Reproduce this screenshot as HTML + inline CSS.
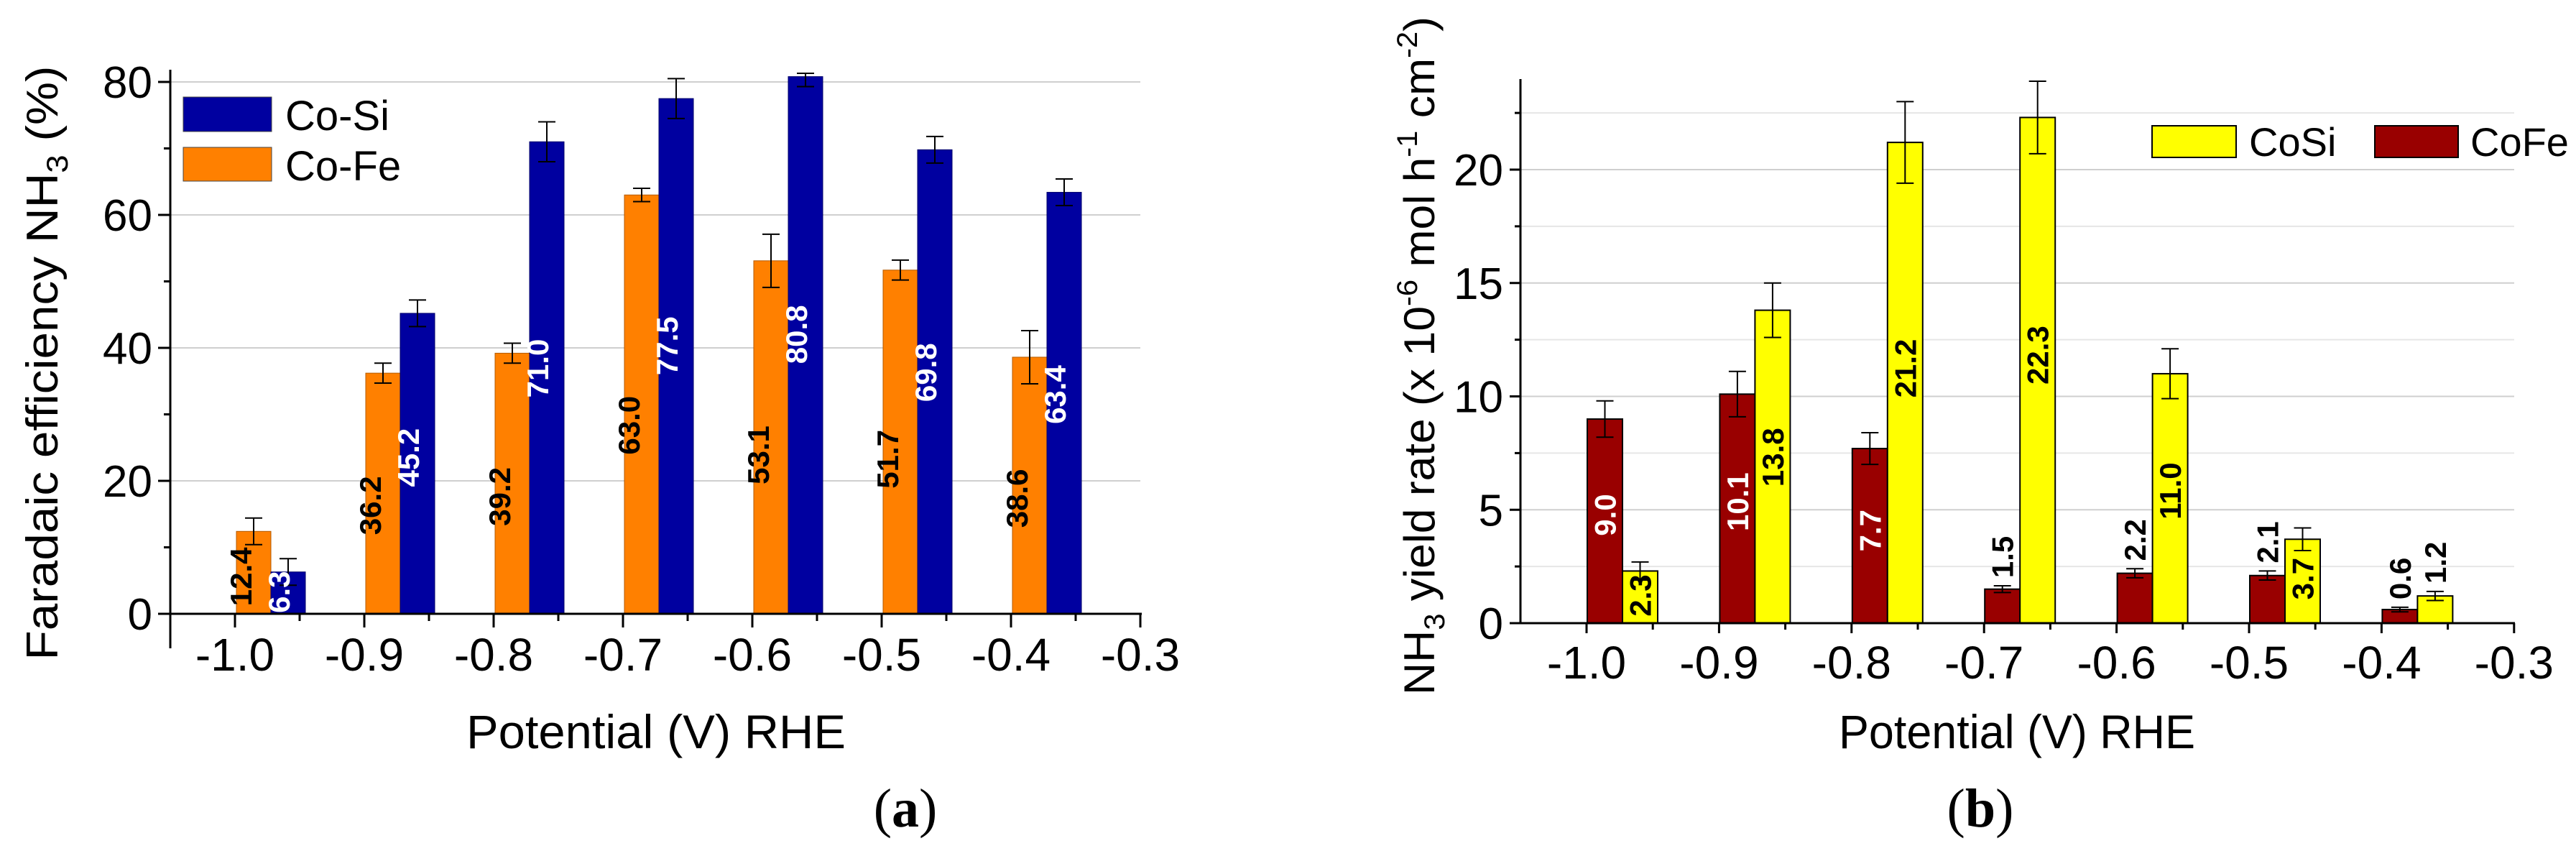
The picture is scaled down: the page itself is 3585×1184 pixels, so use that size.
<!DOCTYPE html>
<html><head><meta charset="utf-8"><style>
html,body{margin:0;padding:0;background:#fff;}
svg{display:block;font-family:"Liberation Sans",Arial,sans-serif;}
</style></head><body>
<svg id="fig" width="3585" height="1184" viewBox="0 0 3585 1184" xmlns="http://www.w3.org/2000/svg">
<rect width="3585" height="1184" fill="#fff"/>
<g id="chartA"></g>
<g id="chartB"></g>
</svg>
<script>
// ---------- data: chart (a) ----------
const potentialsA = [-1.0, -0.9, -0.8, -0.7, -0.6, -0.5, -0.4];
const feCoFe = [12.4, 36.2, 39.2, 63.0, 53.1, 51.7, 38.6];
const feCoFeErr = [2.0, 1.5, 1.5, 1.0, 4.0, 1.5, 4.0];
const feCoSi = [6.3, 45.2, 71.0, 77.5, 80.8, 69.8, 63.4];
const feCoSiErr = [2.0, 2.0, 3.0, 3.0, 1.5, 2.0, 2.0];
const xTicksA = ["-1.0","-0.9","-0.8","-0.7","-0.6","-0.5","-0.4","-0.3"];
const yTicksA = [0, 20, 40, 60, 80];
// ---------- data: chart (b) ----------
const potentialsB = [-1.0, -0.9, -0.8, -0.7, -0.6, -0.5, -0.4];
const yrCoFe = [9.0, 10.1, 7.7, 1.5, 2.2, 2.1, 0.6];
const yrCoFeErr = [0.8, 1.0, 0.7, 0.15, 0.2, 0.2, 0.1];
const yrCoSi = [2.3, 13.8, 21.2, 22.3, 11.0, 3.7, 1.2];
const yrCoSiErr = [0.4, 1.2, 1.8, 1.6, 1.1, 0.5, 0.2];
const xTicksB = ["-1.0","-0.9","-0.8","-0.7","-0.6","-0.5","-0.4","-0.3"];
const yTicksB = [0, 5, 10, 15, 20];

const NS = "http://www.w3.org/2000/svg";
function mk(parent, tag, attrs, text) {
  const e = document.createElementNS(NS, tag);
  for (const k in attrs) e.setAttribute(k, attrs[k]);
  if (text !== undefined) e.textContent = text;
  parent.appendChild(e);
  return e;
}

// ================= CHART A =================
(function(){
  const g = document.getElementById('chartA');
  const x0 = 237, y0 = 854, yTop = 114, vMax = 80;
  const xStart = 327, xStep = 180;
  const bw = 48;
  const yA = v => y0 - (v / vMax) * (y0 - yTop);
  const xA = p => xStart + (p - (-1.0)) / 0.1 * xStep;

  // gridlines
  yTicksA.forEach(t => {
    if (t === 0) return;
    const l = mk(g, 'line', {x1:x0, x2:1587, y1:yA(t), y2:yA(t), stroke:'#cfcfcf', 'stroke-width':2});
    
    
  });

  // bars
  potentialsA.forEach((p, i) => {
    const xl = xA(p);
    const r1 = mk(g, 'rect', {x:xl+2, y:yA(feCoFe[i]), width:bw, height:y0-yA(feCoFe[i]), fill:'#ff8000', stroke:'#b35a00', 'stroke-width':1});
    
    
    const r2 = mk(g, 'rect', {x:xl+2+bw, y:yA(feCoSi[i]), width:bw, height:y0-yA(feCoSi[i]), fill:'#0000a0', stroke:'#00006a', 'stroke-width':1});
    
    
    // error bars
    [[feCoFe[i], feCoFeErr[i], xl+2+bw/2], [feCoSi[i], feCoSiErr[i], xl+2+bw*1.5]].forEach(([v, e, cx]) => {
      const eg = mk(g, 'g', {stroke:'#000', 'stroke-width':2});
      
      
      const top = Math.max(yA(v+e), yTop - 12);
      mk(eg, 'line', {x1:cx, x2:cx, y1:top, y2:yA(v-e)});
      mk(eg, 'line', {x1:cx-12, x2:cx+12, y1:top, y2:top});
      mk(eg, 'line', {x1:cx-12, x2:cx+12, y1:yA(v-e), y2:yA(v-e)});
    });
  });

  // axes
  const ax = mk(g, 'g', {stroke:'#000', 'stroke-width':3});
  
  
  mk(ax, 'line', {x1:x0, x2:x0, y1:97, y2:902});
  mk(ax, 'line', {x1:228, x2:1589, y1:y0, y2:y0});
  for (let k = 0; k <= 14; k++) {
    const xx = xStart + k * xStep / 2;
    mk(ax, 'line', {x1:xx, x2:xx, y1:y0, y2:y0 + (k % 2 === 0 ? 19 : 10)});
  }
  for (let v = 0; v <= 80; v += 10) {
    mk(ax, 'line', {x1:x0, x2:x0 - (v % 20 === 0 ? 17 : 9), y1:yA(v), y2:yA(v)});
  }

  // tick labels
  yTicksA.forEach(t => {
    const tx = mk(g, 'text', {x:212, y:yA(t)+22, 'font-size':62, 'text-anchor':'end'}, String(t));
    
    
  });
  xTicksA.forEach((t, k) => {
    const tx = mk(g, 'text', {x:xStart + k*xStep, y:933, 'font-size':64, 'text-anchor':'middle'}, t);
    
    
  });

  // value labels
  potentialsA.forEach((p, i) => {
    const xl = xA(p);
    const c1 = yA(feCoFe[i] * 0.45);
    const t1 = mk(g, 'text', {x:0, y:0, 'font-size':42, 'font-weight':'bold', fill:'#000', 'text-anchor':'middle', transform:`translate(${xl+23},${c1}) rotate(-90)`}, feCoFe[i].toFixed(1));
    
    
    const c2 = yA(feCoSi[i] * 0.52);
    const t2 = mk(g, 'text', {x:0, y:0, 'font-size':42, 'font-weight':'bold', fill:'#fff', 'text-anchor':'middle', transform:`translate(${xl+bw+28},${c2}) rotate(-90)`}, feCoSi[i].toFixed(1));
    
    
  });

  // legend
  const lg = mk(g, 'g', {});
  
  
  mk(lg, 'rect', {x:255, y:135, width:123, height:48, fill:'#0000a0', stroke:'#444', 'stroke-width':1});
  mk(lg, 'text', {x:397, y:181, 'font-size':58}, 'Co-Si');
  mk(lg, 'rect', {x:255, y:205, width:123, height:47, fill:'#ff8000', stroke:'#444', 'stroke-width':1});
  mk(lg, 'text', {x:397, y:251, 'font-size':58}, 'Co-Fe');

  // titles
  const yt = mk(g, 'text', {x:0, y:0, 'font-size':62, 'text-anchor':'middle', transform:'translate(80,505) rotate(-90)', textLength:827, lengthAdjust:'spacingAndGlyphs'});
  
  
  yt.innerHTML = 'Faradaic efficiency NH<tspan font-size="42" dy="14">3</tspan><tspan dy="-14"> (%)</tspan>';
  const xt = mk(g, 'text', {x:913, y:1041, 'font-size':66, 'text-anchor':'middle', textLength:528, lengthAdjust:'spacingAndGlyphs'}, 'Potential (V) RHE');
  
  
  const pl = mk(g, 'text', {x:1260, y:1150, 'font-size':76, 'text-anchor':'middle', 'font-family':'"Liberation Serif",serif'});
  
  
  pl.innerHTML = '(<tspan font-weight="bold">a</tspan>)';
})();

// ================= CHART B =================
(function(){
  const g = document.getElementById('chartB');
  const x0 = 2116, y0 = 867, vPx = 31.55;
  const xStart = 2208, xStep = 184.4, xEnd = 3499;
  const bw = 49;
  const yB = v => y0 - v * vPx;
  const xB = p => xStart + (p - (-1.0)) / 0.1 * xStep;

  // gridlines
  for (let v = 2.5; v <= 22.5; v += 2.5) {
    const major = (v % 5 === 0);
    const l = mk(g, 'line', {x1:x0, x2:xEnd, y1:yB(v), y2:yB(v), stroke: major ? '#cfcfcf' : '#e6e6e6', 'stroke-width':2});
    
    
  }

  potentialsB.forEach((p, i) => {
    const xl = xB(p);
    const r1 = mk(g, 'rect', {x:xl+1, y:yB(yrCoFe[i]), width:bw, height:y0-yB(yrCoFe[i]), fill:'#990000', stroke:'#000', 'stroke-width':2});
    
    
    const r2 = mk(g, 'rect', {x:xl+1+bw, y:yB(yrCoSi[i]), width:bw, height:y0-yB(yrCoSi[i]), fill:'#ffff00', stroke:'#000', 'stroke-width':2});
    
    
    [[yrCoFe[i], yrCoFeErr[i], xl+1+bw/2], [yrCoSi[i], yrCoSiErr[i], xl+1+bw*1.5]].forEach(([v, e, cx]) => {
      const eg = mk(g, 'g', {stroke:'#000', 'stroke-width':2});
      
      
      mk(eg, 'line', {x1:cx, x2:cx, y1:yB(v+e), y2:yB(v-e)});
      mk(eg, 'line', {x1:cx-12, x2:cx+12, y1:yB(v+e), y2:yB(v+e)});
      mk(eg, 'line', {x1:cx-12, x2:cx+12, y1:yB(v-e), y2:yB(v-e)});
    });
    // value labels
    const fe = yrCoFe[i];
    let c1, fill1;
    if (fe < 5) { c1 = yB(fe + yrCoFeErr[i]) - 40; fill1 = '#000'; }
    else { c1 = yB(fe * 0.53); fill1 = '#fff'; }
    const t1 = mk(g, 'text', {x:0, y:0, 'font-size':42, 'font-weight':'bold', fill:fill1, 'text-anchor':'middle', transform:`translate(${xl+1+bw/2+15},${c1}) rotate(-90)`}, fe.toFixed(1));
    
    
    const si = yrCoSi[i];
    const c2 = si < 2 ? yB(si + yrCoSiErr[i]) - 40 : yB(si * 0.53);
    const t2 = mk(g, 'text', {x:0, y:0, 'font-size':42, 'font-weight':'bold', fill:'#000', 'text-anchor':'middle', transform:`translate(${xl+1+bw*1.5+15},${c2}) rotate(-90)`}, si.toFixed(1));
    
    
  });

  // axes
  const ax = mk(g, 'g', {stroke:'#000', 'stroke-width':3});
  
  
  mk(ax, 'line', {x1:x0, x2:x0, y1:110, y2:y0+1});
  mk(ax, 'line', {x1:x0, x2:xEnd+1, y1:y0, y2:y0});
  for (let k = 0; k <= 15; k++) {
    const xx = xStart + (k - 0.5) * xStep / 2 + xStep / 4;
    const xt = x0 + k * xStep / 2 + (xStart - x0) % (xStep / 2);
  }
  for (let k = -1; k <= 14; k++) {
    const xx = xStart + k * xStep / 2;
    if (xx < x0) continue;
    mk(ax, 'line', {x1:xx, x2:xx, y1:y0, y2:y0 + (k % 2 === 0 ? 14 : 9)});
  }
  for (let v = 0; v <= 22.5; v += 2.5) {
    mk(ax, 'line', {x1:x0, x2:x0 - (v % 5 === 0 ? 15 : 8), y1:yB(v), y2:yB(v)});
  }

  yTicksB.forEach(t => {
    const tx = mk(g, 'text', {x:2092, y:yB(t)+22, 'font-size':62, 'text-anchor':'end'}, String(t));
    
    
  });
  xTicksB.forEach((t, k) => {
    const tx = mk(g, 'text', {x:xStart + k*xStep, y:944, 'font-size':64, 'text-anchor':'middle'}, t);
    
    
  });

  // legend
  const lg = mk(g, 'g', {});
  
  
  mk(lg, 'rect', {x:2995, y:175, width:117, height:44, fill:'#ffff00', stroke:'#000', 'stroke-width':2});
  mk(lg, 'text', {x:3130, y:217, 'font-size':56}, 'CoSi');
  mk(lg, 'rect', {x:3305, y:175, width:116, height:44, fill:'#990000', stroke:'#000', 'stroke-width':2});
  mk(lg, 'text', {x:3438, y:217, 'font-size':56}, 'CoFe');

  const yt = mk(g, 'text', {x:0, y:0, 'font-size':60, 'text-anchor':'middle', transform:'translate(1996,495) rotate(-90)', textLength:944, lengthAdjust:'spacingAndGlyphs'});
  
  
  yt.innerHTML = 'NH<tspan font-size="40" dy="14">3</tspan><tspan dy="-14"> yield rate (x 10</tspan><tspan font-size="40" dy="-24">-6</tspan><tspan dy="24">  mol h</tspan><tspan font-size="40" dy="-24">-1</tspan><tspan dy="24"> cm</tspan><tspan font-size="40" dy="-24">-2</tspan><tspan dy="24">)</tspan>';
  const xt = mk(g, 'text', {x:2807, y:1041, 'font-size':66, 'text-anchor':'middle', textLength:496, lengthAdjust:'spacingAndGlyphs'}, 'Potential (V) RHE');
  
  
  const pl = mk(g, 'text', {x:2756, y:1150, 'font-size':76, 'text-anchor':'middle', 'font-family':'"Liberation Serif",serif'});
  
  
  pl.innerHTML = '(<tspan font-weight="bold">b</tspan>)';
})();
</script>
</body></html>
